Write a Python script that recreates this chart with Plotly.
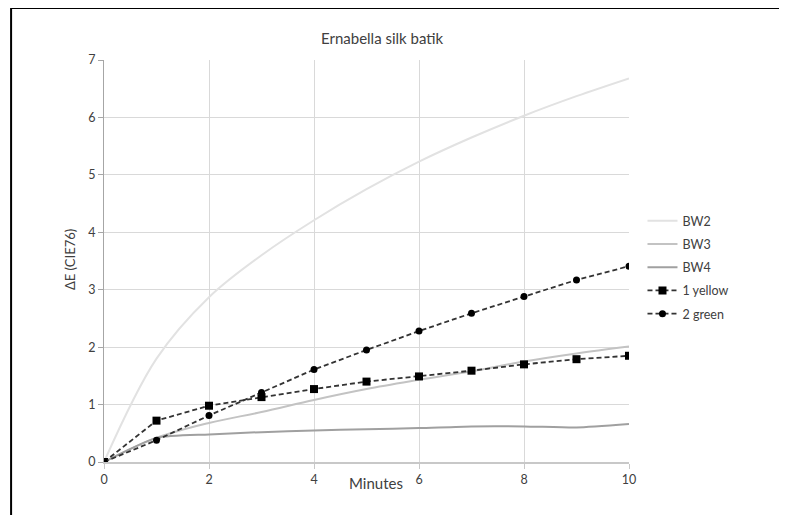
import plotly.graph_objects as go

minutes = [0, 1, 2, 3, 4, 5, 6, 7, 8, 9, 10]
bw2 = [0, 1.80, 2.87, 3.60, 4.21, 4.75, 5.23, 5.65, 6.03, 6.37, 6.68]
bw3 = [0, 0.42, 0.68, 0.87, 1.08, 1.27, 1.43, 1.58, 1.75, 1.89, 2.01]
bw4 = [0, 0.42, 0.48, 0.52, 0.55, 0.57, 0.59, 0.62, 0.62, 0.60, 0.66]
yellow1 = [0, 0.72, 0.98, 1.13, 1.27, 1.40, 1.49, 1.59, 1.70, 1.79, 1.85]
green2 = [0, 0.38, 0.81, 1.21, 1.61, 1.95, 2.28, 2.59, 2.88, 3.17, 3.41]

title_text = "Ernabella silk batik"
x_title = "Minutes"
y_title = "ΔE (CIE76)"
x_ticks = [0, 2, 4, 6, 8, 10]
y_ticks = [0, 1, 2, 3, 4, 5, 6, 7]

FONT = "Lato"
OFF = 8  # default body margin of the page
W, H = 787 - OFF, 515 - OFF
# plot area in page pixels
PL, PR, PT, PB = 104, 629.5, 60, 462
L, R, T, B = PL - OFF, W - (PR - OFF), PT - OFF, H - (PB - OFF)
pw = PR - PL
ph = PB - PT

def px2x(p):
    return (p - PL) / pw

def px2y(p):
    return (PB - p) / ph

fig = go.Figure()
fig.add_trace(go.Scatter(x=minutes, y=bw2, name="BW2", mode="lines",
                         line=dict(color="#e2e2e2", width=2, shape="spline"),
                         legendgroup="a"))
fig.add_trace(go.Scatter(x=minutes, y=bw3, name="BW3", mode="lines",
                         line=dict(color="#c3c3c3", width=2, shape="spline"),
                         legendgroup="b"))
fig.add_trace(go.Scatter(x=minutes, y=bw4, name="BW4", mode="lines",
                         line=dict(color="#a0a0a0", width=2, shape="spline", smoothing=0.6),
                         legendgroup="c"))
fig.add_trace(go.Scatter(x=minutes, y=yellow1, name="1 yellow", mode="lines+markers",
                         line=dict(color="#333333", width=1.8, dash="5px,3px"),
                         marker=dict(symbol="square", size=8, color="#000000"),
                         legendgroup="d"))
fig.add_trace(go.Scatter(x=minutes, y=green2, name="2 green", mode="lines+markers",
                         line=dict(color="#333333", width=1.8, dash="5px,3px"),
                         marker=dict(symbol="circle", size=7, color="#000000"),
                         legendgroup="e"))

fig.update_layout(
    width=W, height=H,
    margin=dict(l=L, r=R, t=T, b=B, pad=0),
    paper_bgcolor="white", plot_bgcolor="white",
    font=dict(family=FONT, size=12, color="#404040"),
    showlegend=True,
    legend=dict(x=px2x(643), y=px2y(206), xanchor="left", yanchor="top",
                traceorder="grouped", tracegroupgap=4,
                font=dict(family=FONT, size=12.5, color="#404040"),
                bgcolor="rgba(0,0,0,0)"),
    xaxis=dict(range=[0, 10], tickvals=x_ticks, showgrid=True, gridcolor="#d9d9d9",
               gridwidth=1, zeroline=False, showline=True, linecolor="#c8c8c8",
               linewidth=2, ticks="outside", ticklen=5, tickcolor="#c8c8c8",
               tickfont=dict(family=FONT, size=12.5, color="#404040"), fixedrange=True),
    yaxis=dict(range=[0, 7], tickvals=y_ticks, showgrid=True, gridcolor="#d9d9d9",
               gridwidth=1, zeroline=False, showline=True, linecolor="#a6a6a6",
               linewidth=1, ticks="outside", ticklen=5, tickcolor="#a6a6a6",
               tickfont=dict(family=FONT, size=12.5, color="#404040"), fixedrange=True),
    annotations=[
        dict(text=title_text, x=px2x(382.5), y=px2y(38), xref="paper", yref="paper",
             showarrow=False, xanchor="center", yanchor="middle",
             font=dict(family=FONT, size=15, color="#404040")),
        dict(text=x_title, x=px2x(376), y=px2y(483), xref="paper", yref="paper",
             showarrow=False, xanchor="center", yanchor="middle",
             font=dict(family=FONT, size=15, color="#404040")),
        dict(text=y_title, x=px2x(70), y=px2y(260), xref="paper", yref="paper",
             showarrow=False, xanchor="center", yanchor="middle", textangle=-90,
             font=dict(family=FONT, size=13, color="#404040")),
    ],
    shapes=[
        dict(type="rect", xref="paper", yref="paper",
             x0=px2x(11), x1=px2x(800), y0=px2y(530), y1=px2y(8),
             line=dict(color="#000000", width=2), fillcolor="rgba(0,0,0,0)",
             layer="above"),
    ],
)

fig.write_html("out.html")
